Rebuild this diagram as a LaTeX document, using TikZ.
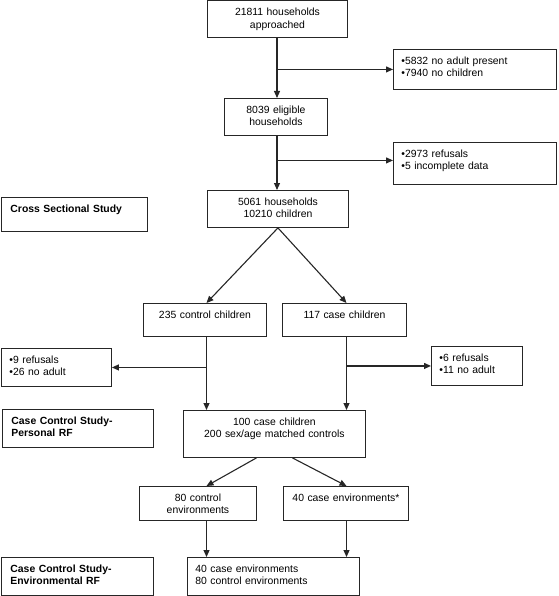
\documentclass[tikz,border=0pt]{standalone}
\usepackage{fontspec}
\setmainfont{Liberation Sans}
\usetikzlibrary{arrows.meta}

\tikzset{
  box/.style={draw=black!85, line width=0.9pt, anchor=north west, inner ysep=0pt, inner xsep=2pt, text height=14.7pt, align=center},
  list/.style={box, align=left, inner xsep=8pt},
  study/.style={box, align=left, inner xsep=9pt, font=\bfseries},
  flow/.style={draw=black!85, line width=1.1pt, -{Triangle[length=7pt,width=6pt]}},
}

\begin{document}
\fontsize{10.4}{12.5}\selectfont
\begin{tikzpicture}[x=1pt, y=-1pt]
    \useasboundingbox (0,0) rectangle (558,596);
    % main line of the study
    \node[box, text width=136pt, text depth=21.8pt] (hh) at (207,0.5) {21811 households\\approached};
    \node[box, text width=99pt, text depth=22.3pt] (elig) at (224,98) {8039 eligible\\households};
    \node[box, text width=137pt, text depth=22.3pt] (main) at (207,190) {5061 households\\10210 children};
    \node[box, text width=119pt, text depth=18.3pt] (ctrl) at (143,303) {235 control children};
    \node[box, text width=120pt, text depth=18.3pt] (case) at (282,303) {117 case children};
    \node[box, text width=178pt, text depth=32.3pt] (matched) at (183,410) {100 case children\\200 sex/age matched controls};
    \node[box, text width=113pt, text depth=19.3pt] (cenv) at (139,486) {80 control\\environments};
    \node[box, text width=121pt, text depth=19.3pt] (kenv) at (283,486) {40 case environments*};
    \node[list, text width=156pt, text depth=23.3pt] (final) at (187,557) {40 case environments\\80 control environments};
    % losses
    \node[list, text width=147pt, text depth=25.3pt] (ex1) at (393,49) {\textbullet5832 no adult present\\\textbullet7940 no children};
    \node[list, text width=147pt, text depth=27.3pt] (ex2) at (393,142) {\textbullet2973 refusals\\\textbullet5 incomplete data};
    \node[list, text width=94pt, text depth=23.3pt] (ex3) at (1,348) {\textbullet9 refusals\\\textbullet26 no adult};
    \node[list, text width=75pt, text depth=24.3pt] (ex4) at (431,346) {\textbullet6 refusals\\\textbullet11 no adult};
    % study labels
    \node[study, text width=128pt, text depth=19.3pt] (cross) at (1,197) {Cross Sectional Study};
    \node[study, text width=133pt, text depth=23.3pt] (ccp) at (2,409) {Case Control Study-\\Personal RF};
    \node[study, text width=134pt, text depth=23.3pt] (cce) at (1,557) {Case Control Study-\\Environmental RF};
    % columns of the arrows
    \coordinate (mcol) at (277,0);
    \coordinate (lcol) at (206.5,0);
    \coordinate (rcol) at (346.5,0);
    \coordinate (ex2in) at ([yshift=3pt]ex2.west);
    \draw[flow] (mcol |- hh.south) -- (mcol |- elig.north); % approached
    \draw[flow] (mcol |- ex1.west) -- (ex1.west); % not eligible
    \draw[flow] (mcol |- elig.south) -- (mcol |- main.north); % eligible
    \draw[flow] (mcol |- ex2in) -- (ex2in); % refused
    \draw[flow] (main.south) -- (lcol |- ctrl.north); % controls
    \draw[flow] (main.south) -- (rcol |- case.north); % cases
    \draw[flow] (lcol |- ctrl.south) -- (lcol |- matched.north);
    \draw[flow] (lcol |- ex3.east) -- (ex3.east); % control losses
    \draw[flow] (rcol |- case.south) -- (rcol |- matched.north);
    \draw[flow] (rcol |- ex4.west) -- (ex4.west); % case losses
    \draw[flow] ([xshift=-18pt]matched.south) -- (lcol |- cenv.north);
    \draw[flow] ([xshift=18pt]matched.south) -- (rcol |- kenv.north);
    \draw[flow] (lcol |- cenv.south) -- (lcol |- final.north);
    \draw[flow] (rcol |- kenv.south) -- (rcol |- final.north);
\end{tikzpicture}
\end{document}
